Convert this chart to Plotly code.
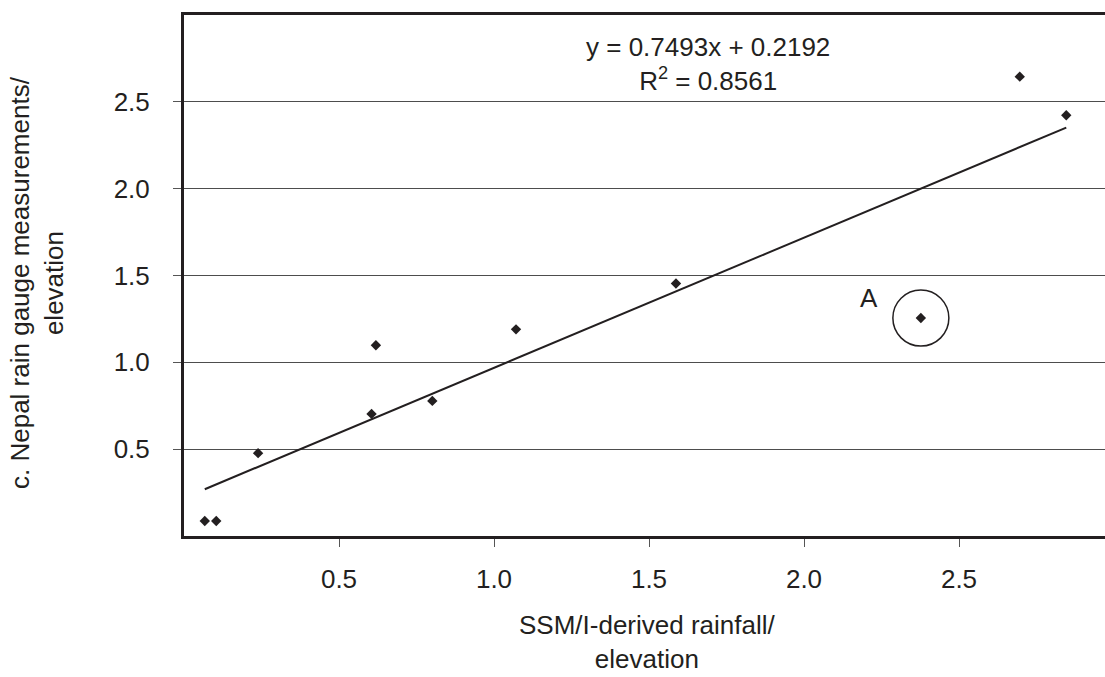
import plotly.graph_objects as go

# Data
ssmi_x = [0.067, 0.104, 0.239, 0.605, 0.619, 0.801, 1.071, 1.587, 2.377, 2.696, 2.846]
gauge_y = [0.086, 0.086, 0.477, 0.703, 1.098, 0.778, 1.19, 1.454, 1.255, 2.645, 2.423]
slope = 0.7493
intercept = 0.2192
r_squared = 0.8561
outlier_x = 2.377
outlier_y = 1.255
tick_vals = [0.5, 1.0, 1.5, 2.0, 2.5]
tick_text = ["0.5", "1.0", "1.5", "2.0", "2.5"]

INK = "#231f20"
FONT = "Liberation Sans, Arial, sans-serif"

fig = go.Figure()

x0, x1 = min(ssmi_x), max(ssmi_x)
fig.add_trace(go.Scatter(
    x=[x0, x1], y=[slope * x0 + intercept, slope * x1 + intercept],
    mode="lines", line=dict(color=INK, width=2), showlegend=False, hoverinfo="skip"))

fig.add_trace(go.Scatter(
    x=ssmi_x, y=gauge_y, mode="markers",
    marker=dict(symbol="diamond", size=8, color=INK), showlegend=False))

fig.add_shape(type="circle", xref="x", yref="y", xsizemode="pixel", ysizemode="pixel",
              xanchor=outlier_x, yanchor=outlier_y, x0=-28, x1=28, y0=-28, y1=28,
              line=dict(color=INK, width=1.5))

fig.add_annotation(x=2.21, y=1.37, xref="x", yref="y", text="A", showarrow=False,
                   font=dict(size=26, color=INK, family=FONT))

fig.add_annotation(x=1.69, y=2.72, xref="x", yref="y",
                   text=f"y = {slope:.4f}x + {intercept:.4f}<br>R<sup>2</sup> = {r_squared:.4f}",
                   showarrow=False, align="center",
                   font=dict(size=26, color=INK, family=FONT))

# x title
fig.add_annotation(x=(647 - 184) / 921, y=(536 - 642) / 521, xref="paper", yref="paper",
                   text="SSM/I-derived rainfall/<br>elevation", showarrow=False,
                   xanchor="center", yanchor="middle", align="center", borderpad=0,
                   font=dict(size=26, color=INK, family=FONT))
# y title
fig.add_annotation(x=(37 - 184) / 921, y=(536 - 283) / 521, xref="paper", yref="paper",
                   text="c. Nepal rain gauge measurements/<br>elevation", showarrow=False,
                   textangle=-90, xanchor="center", yanchor="middle", align="center",
                   font=dict(size=26, color=INK, family=FONT))

fig.update_layout(
    width=1105, height=677,
    margin=dict(l=184, r=0, t=15, b=141),
    paper_bgcolor="white", plot_bgcolor="white",
    font=dict(family=FONT, size=26, color=INK),
    xaxis=dict(range=[0, 921 / 310], tickvals=tick_vals, ticktext=tick_text,
               showgrid=False, zeroline=False, showline=True, linewidth=3, linecolor=INK,
               mirror=True, ticks="outside", ticklen=8, tickwidth=1, tickcolor="#555",
               ticklabelstandoff=10),
    yaxis=dict(range=[0, 3.0], tickvals=tick_vals, ticktext=tick_text,
               showgrid=True, gridcolor="#4d4d4d", gridwidth=1.2,
               zeroline=False, showline=True, linewidth=3, linecolor=INK,
               ticks="outside", ticklen=8, tickwidth=1, tickcolor="#555",
               ticklabelstandoff=18),
)

fig.write_html("out.html")
